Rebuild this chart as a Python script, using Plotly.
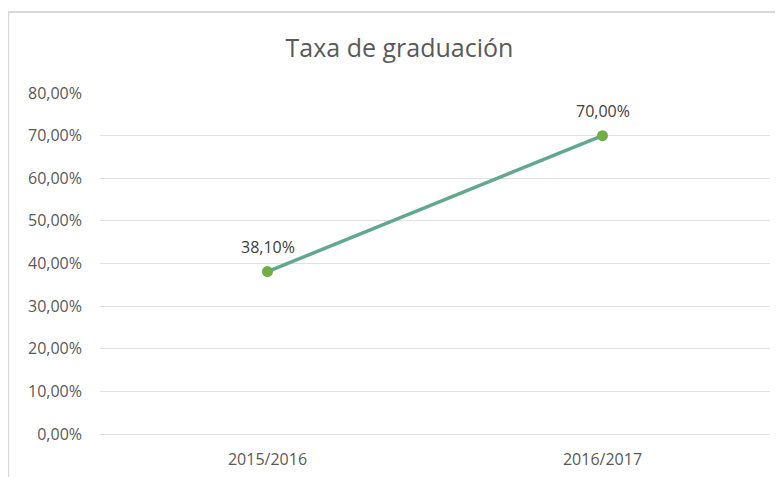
import plotly.graph_objects as go

categories = ["2015/2016", "2016/2017"]
values = [38.10, 70.00]
tick_vals = [0, 10, 20, 30, 40, 50, 60, 70, 80]
tick_text = ["0,00%", "10,00%", "20,00%", "30,00%", "40,00%", "50,00%", "60,00%", "70,00%", "80,00%"]
labels = ["38,10%", "70,00%"]

fig = go.Figure()
fig.add_trace(go.Scatter(
    x=categories, y=values, mode="lines+markers",
    line=dict(color="#62a88e", width=3.5),
    marker=dict(color="#70ad47", size=11),
    hoverinfo="skip", cliponaxis=False,
))

for c, v, t in zip(categories, values, labels):
    fig.add_annotation(x=c, y=v, text=t, showarrow=False, yshift=25,
                       font=dict(family="Open Sans", size=16, color="#404040"))

fig.update_layout(
    width=783, height=477,
    margin=dict(l=92, r=21, t=85, b=51),
    paper_bgcolor="white", plot_bgcolor="white",
    showlegend=False,
    title=dict(text="Taxa de graduación", x=0.5, xanchor="center", y=0.916, yanchor="middle",
               font=dict(family="Open Sans", size=25, color="#595959")),
    font=dict(family="Open Sans", color="#595959", size=16),
)
fig.update_xaxes(type="category", range=[-0.5, 1.5], showgrid=False, showline=False,
                 ticks="", tickfont=dict(size=16, color="#595959"), zeroline=False,
                 ticklabelstandoff=14)
fig.update_yaxes(range=[0, 80], tickvals=tick_vals, ticktext=tick_text,
                 showgrid=True, gridcolor="#e0e0e0", gridwidth=1, zeroline=True,
                 zerolinecolor="#e0e0e0", zerolinewidth=1, showline=False, ticks="",
                 ticklabelstandoff=17, tickfont=dict(size=16, color="#595959"))

fig.add_shape(type="rect", xref="paper", yref="paper",
              x0=-0.137, x1=1.1, y0=-0.2, y1=1.2375,
              line=dict(color="#d9d9d9", width=2), fillcolor="rgba(0,0,0,0)", layer="below")

fig.write_html("out.html")
